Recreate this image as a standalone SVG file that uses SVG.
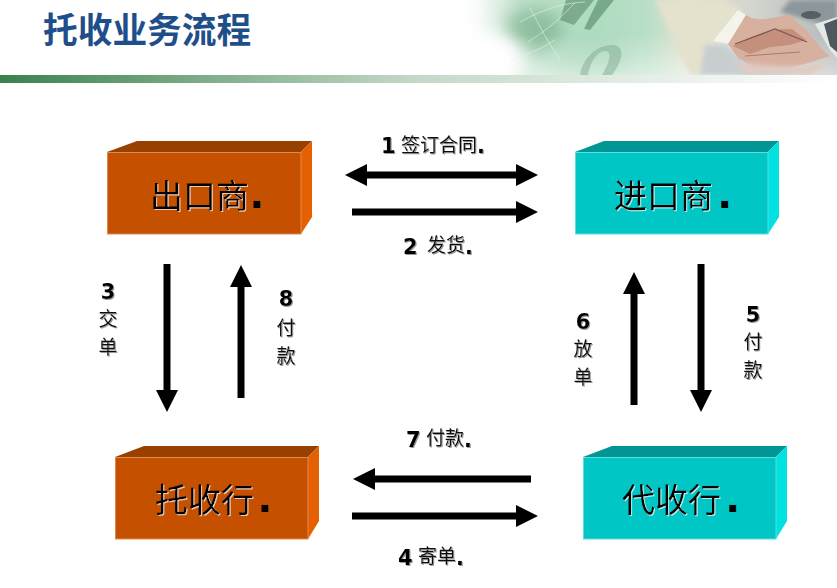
<svg xmlns="http://www.w3.org/2000/svg" width="837" height="588" viewBox="0 0 837 588">
<style>
.cjk{font-family:"Noto Sans CJK SC","Noto Sans",sans-serif}
.lbl{font-family:"Noto Sans CJK SC",sans-serif;font-size:19px;fill:#111;filter:url(#soft)}
.num{font-family:"DejaVu Sans",sans-serif;font-weight:bold;font-size:21px;fill:#000;filter:url(#soft)}
.box{font-family:"Noto Sans CJK SC",sans-serif;font-size:33px;fill:#000;filter:url(#boxsh)}
.dot{font-family:"DejaVu Sans",sans-serif;font-weight:bold;font-size:38px;fill:#000}
.mid{text-anchor:middle}
.o1{fill:#c55000;stroke:#e08a50;stroke-width:1}.o2{fill:#984000}.o3{fill:#e56000}
.t1{fill:#00c6c6;stroke:#60dcdc;stroke-width:1}.t2{fill:#009696}.t3{fill:#00e2e2}
.conn{stroke:#000;stroke-width:7;fill:none}
</style>
<defs>
<linearGradient id="bar" x1="0" x2="1" y1="0" y2="0"><stop offset="0" stop-color="#3a824c"/><stop offset="0.5" stop-color="#c5d9c8"/><stop offset="1" stop-color="#ffffff"/></linearGradient>
<linearGradient id="ban" x1="0" x2="1" y1="0" y2="0"><stop offset="0" stop-color="#fff"/><stop offset="0.1" stop-color="#f2f8f3"/><stop offset="0.2" stop-color="#c4e2cd"/><stop offset="0.38" stop-color="#aedcc0"/><stop offset="0.52" stop-color="#b9dfc6"/><stop offset="0.62" stop-color="#dfe3d2"/><stop offset="0.78" stop-color="#d4d6d0"/><stop offset="1" stop-color="#b4b9ba"/></linearGradient>
<linearGradient id="fadeB" x1="0" x2="0" y1="0" y2="1"><stop offset="0" stop-color="#fff" stop-opacity="0"/><stop offset="1" stop-color="#fff" stop-opacity="0.8"/></linearGradient>
<filter id="b2" x="-30%" y="-30%" width="160%" height="160%"><feGaussianBlur stdDeviation="2"/></filter>
<filter id="b1" x="-30%" y="-30%" width="160%" height="160%"><feGaussianBlur stdDeviation="0.7"/></filter>
<filter id="b8" x="-50%" y="-50%" width="200%" height="200%"><feGaussianBlur stdDeviation="9"/></filter>
<filter id="soft" x="-20%" y="-20%" width="140%" height="140%"><feDropShadow dx="1" dy="1" stdDeviation="0.5" flood-color="#999"/></filter>
<filter id="boxsh" x="-20%" y="-20%" width="140%" height="140%"><feDropShadow dx="1" dy="1" stdDeviation="0.3" flood-color="#ffffff" flood-opacity="0.7"/></filter>
<clipPath id="banclip"><rect x="441" y="0" width="396" height="75"/></clipPath>
<marker id="head" markerUnits="userSpaceOnUse" markerWidth="22" markerHeight="22" refX="0" refY="11" orient="auto-start-reverse" viewBox="0 0 22 22"><path d="M0 0L22 11L0 22Z" fill="#000"/></marker>
</defs>
<rect width="837" height="588" fill="#fff"/>
<g id="banner" clip-path="url(#banclip)">
<rect x="441" y="0" width="396" height="75" fill="url(#ban)"/>
<ellipse cx="535" cy="32" rx="30" ry="24" fill="#8dbf9f" filter="url(#b8)"/>
<ellipse cx="590" cy="60" rx="40" ry="20" fill="#a6d6b8" filter="url(#b8)"/>
<ellipse cx="480" cy="60" rx="45" ry="30" fill="#fff" filter="url(#b8)"/>
<ellipse cx="450" cy="15" rx="25" ry="40" fill="#fff" filter="url(#b8)"/>
<rect x="441" y="35" width="396" height="40" fill="url(#fadeB)" opacity=".6"/>
<g filter="url(#b1)">
<path d="M566 0L594 0L574 25L560 20Z" fill="#5f9270" opacity=".65"/>
<path d="M598 0L614 0L590 30L584 29Z" fill="#5a8f6c" opacity=".65"/>
<path d="M580 75C583 55 600 44 614 45C626 47 622 62 612 75L602 75C610 62 612 52 606 51C598 50 590 62 588 75Z" fill="#7aa389" opacity=".45"/>
<path d="M520 22C545 8 565 3 585 2M528 42C550 28 560 18 575 3M530 8L545 36L560 60" fill="none" stroke="#e6f2ea" stroke-width="1" opacity=".6"/>
<path d="M555 40C540 50 525 55 510 60" fill="none" stroke="#e6f2ea" stroke-width="1" opacity=".6"/>
</g>
<path d="M655 0L722 0L741 9L718 42L706 58L700 75L690 75Z" fill="#e4e1cd" filter="url(#b2)"/>
<path d="M790 0L837 0L837 28L815 22L780 12Z" fill="#8d979b" filter="url(#b2)"/>
<ellipse cx="811" cy="15" rx="10" ry="4" fill="#566064" filter="url(#b1)"/>
<path d="M705 45L725 45L745 62L790 75L700 75Z" fill="#c8ced0" filter="url(#b2)"/>
<path d="M738 10L746 15L729 44L713 41Z" fill="#f4f4ec" filter="url(#b1)"/>
<path d="M746 15C758 24 775 16 790 15L806 30L823 50L830 56L812 62L790 68L755 68L738 58L728 44Z" fill="#d7b0a0" filter="url(#b1)"/>
<path d="M733 46C750 36 772 28 792 29L806 40L790 45L770 47L750 54Z" fill="#c48f7c" filter="url(#b1)"/>
<path d="M735 44L775 29L807 42" fill="none" stroke="#7e5a4c" stroke-width="1.2" filter="url(#b1)"/>
<path d="M745 56L800 52" fill="none" stroke="#a87c6c" stroke-width="1" filter="url(#b1)"/>
<path d="M815 24L837 17L837 58L830 50Z" fill="#e4e8e6" filter="url(#b1)"/>
<path d="M824 24L837 19L837 52L830 46Z" fill="#50585c" filter="url(#b1)"/>
<path d="M735 62L775 66L800 66L830 62L810 75L745 75Z" fill="#dfcbc2" filter="url(#b2)"/>
</g>
<rect id="header-bar" x="0" y="75" width="837" height="8" fill="url(#bar)"/>
<text id="title" class="cjk" x="43" y="43" font-size="34.7" font-weight="700" fill="#1f4f8a">托收业务流程</text>

<g id="connectors">
<line class="conn" x1="367" y1="175" x2="516" y2="175" marker-start="url(#head)" marker-end="url(#head)"/>
<line class="conn" x1="352" y1="212" x2="516" y2="212" marker-end="url(#head)"/>
<line class="conn" x1="167" y1="264" x2="167" y2="390" marker-end="url(#head)"/>
<line class="conn" x1="241" y1="398" x2="241" y2="287" marker-end="url(#head)"/>
<line class="conn" x1="634" y1="405" x2="634" y2="294" marker-end="url(#head)"/>
<line class="conn" x1="701" y1="264" x2="701" y2="390" marker-end="url(#head)"/>
<line class="conn" x1="531" y1="479" x2="375" y2="479" marker-end="url(#head)"/>
<line class="conn" x1="352" y1="516" x2="516" y2="516" marker-end="url(#head)"/>
</g>

<g id="node-exporter">
<path class="o2" d="M107 152L137 141L312 141L301 152Z"/><path class="o3" d="M301 152L312 141L312 217L301 234Z"/>
<rect class="o1" x="107.5" y="152.5" width="193.5" height="81.5"/>
<text class="box" x="150" y="208">出口商</text><text class="dot" x="249.4" y="208">.</text>
</g>
<g id="node-importer">
<path class="t2" d="M575 152L604 141L779 141L768 152Z"/><path class="t3" d="M768 152L779 141L779 217L768 234Z"/>
<rect class="t1" x="575.5" y="152.5" width="192.5" height="81.5"/>
<text class="box" x="614" y="208">进口商</text><text class="dot" x="717.4" y="208">.</text>
</g>
<g id="node-remitting-bank">
<path class="o2" d="M115 457L144 446L319 446L308 457Z"/><path class="o3" d="M308 457L319 446L319 521L308 539Z"/>
<rect class="o1" x="115.5" y="457.5" width="192.5" height="81.5"/>
<text class="box" x="155" y="512">托收行</text><text class="dot" x="257.4" y="512">.</text>
</g>
<g id="node-collecting-bank">
<path class="t2" d="M583 457L612 446L787 446L776 457Z"/><path class="t3" d="M776 457L787 446L787 521L776 539Z"/>
<rect class="t1" x="583.5" y="457.5" width="192.5" height="81.5"/>
<text class="box" x="622" y="512">代收行</text><text class="dot" x="725.4" y="512">.</text>
</g>

<g id="labels">
<text class="num" x="381" y="153">1</text><text class="lbl" x="401" y="152">签订合同</text><text class="num" x="477" y="153">.</text>
<text class="num" x="403" y="254">2</text><text class="lbl" x="427" y="252">发货</text><text class="num" x="465" y="254">.</text>
<text class="num mid" x="108" y="299">3</text><text class="lbl mid" x="108" y="326">交</text><text class="lbl mid" x="108" y="354">单</text>
<text class="num mid" x="286" y="306">8</text><text class="lbl mid" x="286" y="335">付</text><text class="lbl mid" x="286" y="363">款</text>
<text class="num mid" x="583" y="329">6</text><text class="lbl mid" x="583" y="356">放</text><text class="lbl mid" x="583" y="384">单</text>
<text class="num mid" x="753" y="322">5</text><text class="lbl mid" x="753" y="349">付</text><text class="lbl mid" x="753" y="377">款</text>
<text class="num" x="406" y="447">7</text><text class="lbl" x="426" y="445">付款</text><text class="num" x="464" y="447">.</text>
<text class="num" x="398" y="565">4</text><text class="lbl" x="418" y="563">寄单</text><text class="num" x="456" y="565">.</text>
</g>
</svg>
